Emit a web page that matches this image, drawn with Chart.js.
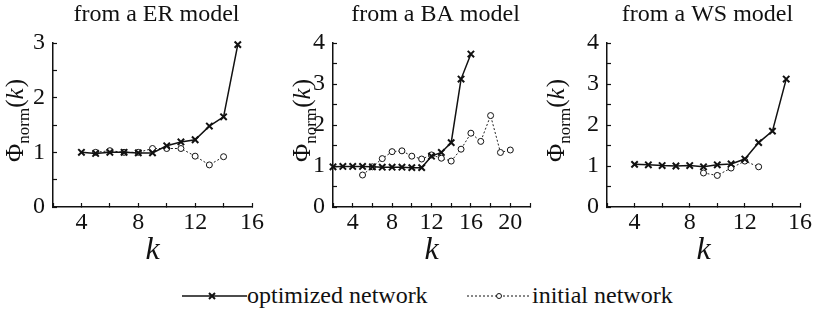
<!DOCTYPE html>
<html><head><meta charset="utf-8">
<script src="https://cdn.jsdelivr.net/npm/chart.js@4/dist/chart.umd.min.js"></script>
<style>
html,body{margin:0;padding:0;background:#fff;}
#wrap{position:relative;width:817px;height:311px;overflow:hidden;font-family:'Liberation Serif';}
.pc{position:absolute;top:0;height:270px;}
#legend{position:absolute;top:281px;left:0;width:817px;height:28px;font-size:24px;color:#111;font-family:'Liberation Serif';}
#legend span{position:absolute;top:0;white-space:nowrap;line-height:28px;}
#legend svg{position:absolute;top:0;}
</style></head>
<body><div id="wrap">
<div class="pc" style="left:0;width:272px"><canvas id="c1"></canvas></div>
<div class="pc" style="left:272px;width:272px"><canvas id="c2"></canvas></div>
<div class="pc" style="left:544px;width:273px"><canvas id="c3"></canvas></div>
<div id="legend">
<svg style="left:182px" width="65" height="28"><line x1="0" y1="15" x2="65" y2="15" stroke="#111" stroke-width="1.5"/><path d="M27 12 L33 18 M33 12 L27 18" stroke="#111" stroke-width="2"/></svg>
<span style="left:247px">optimized network</span>
<svg style="left:467px" width="64" height="28"><line x1="0" y1="15" x2="64" y2="15" stroke="#111" stroke-width="1" stroke-dasharray="2,2"/><circle cx="32" cy="15" r="2.5" fill="#fff" stroke="#111" stroke-width="1"/></svg>
<span style="left:532px">initial network</span>
</div>
</div>
<script>
// ---- data ----
const titles = ["from a ER model", "from a BA model", "from a WS model"];
const kER_opt = [4,5,6,7,8,9,10,11,12,13,14,15];
const ER_opt  = [1.00,0.98,1.00,1.00,0.99,0.99,1.12,1.19,1.23,1.48,1.65,2.97];
const kER_ini = [5,6,7,8,9,10,11,12,13,14];
const ER_ini  = [1.00,1.03,1.00,1.00,1.07,1.07,1.07,0.93,0.77,0.92];
const kBA_opt = [2,3,4,5,6,7,8,9,10,11,12,13,14,15,16];
const BA_opt  = [0.98,0.99,0.99,0.99,0.98,0.97,0.97,0.97,0.96,0.96,1.24,1.33,1.57,3.12,3.73];
const kBA_ini = [5,6,7,8,9,10,11,12,13,14,15,16,17,18,19,20];
const BA_ini  = [0.78,0.98,1.18,1.35,1.37,1.24,1.17,1.27,1.19,1.12,1.41,1.80,1.60,2.23,1.33,1.39];
const kWS_opt = [4,5,6,7,8,9,10,11,12,13,14,15];
const WS_opt  = [1.04,1.03,1.01,1.00,1.01,0.98,1.03,1.05,1.17,1.57,1.85,3.12];
const kWS_ini = [9,10,11,12,13];
const WS_ini  = [0.83,0.77,0.95,1.12,0.98];
const xMax = [16, 22, 16];
const yMax = [3, 4, 4];
const xLabelStep = 4;

const FF = "'Liberation Serif'";
const pts = (ks, vs) => ks.map((k, i) => ({x: k, y: vs[i]}));

const panelText = {
  id: 'panelText',
  afterDraw(chart, args, opts) {
    const ctx = chart.ctx, a = chart.chartArea;
    ctx.save();
    ctx.fillStyle = '#111';
    ctx.font = "24px " + FF;
    ctx.textAlign = 'center';
    ctx.textBaseline = 'middle';
    ctx.fillText(opts.title, (a.left + a.right) / 2 + opts.titleDx, 15);
    const big = "25px " + FF;
    const sub = "17px " + FF;
    const it = "italic 25px " + FF;
    const parts = [["Φ", big, 0], ["norm", sub, 6], ["(", big, 0], ["k", it, 0], [")", big, 0]];
    let w = 0;
    parts.forEach(p => { ctx.font = p[1]; p.push(ctx.measureText(p[0]).width); w += p[3]; });
    ctx.translate(opts.ylx, (a.top + a.bottom) / 2 - 4);
    ctx.rotate(-Math.PI / 2);
    ctx.textAlign = 'left';
    ctx.textBaseline = 'alphabetic';
    let x = -w / 2;
    parts.forEach(p => { ctx.font = p[1]; ctx.fillText(p[0], x, 8 + p[2]); x += p[3] + (p[0] === 'k' ? 1 : 0); });
    ctx.restore();
  }
};

function makeChart(id, idx, opt, ini, yAxisW, padRight, ylx, titleDx) {
  new Chart(document.getElementById(id), {
    type: 'line',
    data: {
      datasets: [
        {label: 'optimized network', data: opt, borderColor: '#111', borderWidth: 1.5,
         pointStyle: 'crossRot', pointRadius: 4.5, pointBorderWidth: 2, pointBorderColor: '#111',
         pointBackgroundColor: '#111', tension: 0, order: 1},
        {label: 'initial network', data: ini, borderColor: '#222', borderWidth: 1, borderDash: [2, 2],
         pointStyle: 'circle', pointRadius: 3, pointBorderWidth: 1, pointBorderColor: '#111',
         pointBackgroundColor: '#fff', tension: 0, order: 2}
      ]
    },
    options: {
      responsive: false, animation: false, clip: false,
      layout: {padding: {top: 43, right: padRight, left: 0, bottom: 0}},
      plugins: {legend: {display: false}, tooltip: {enabled: false},
        panelText: {title: titles[idx], ylx: ylx, titleDx: titleDx}},
      scales: {
        x: {type: 'linear', min: 2, max: xMax[idx],
          afterFit(s) { s.height = 63; },
          border: {color: '#111', width: 1.5},
          grid: {drawOnChartArea: false, tickLength: -4, tickColor: '#111', tickWidth: 1.2},
          ticks: {stepSize: 2, padding: 5, color: '#111', font: {family: FF, size: 24},
            maxRotation: 0, autoSkip: false,
            callback: v => (v % xLabelStep === 0 && v > 2) ? String(v) : ''},
          title: {display: true, text: 'k', color: '#111', padding: {top: 0, bottom: 0},
            font: {family: FF, size: 32, style: 'italic'}}
        },
        y: {min: 0, max: yMax[idx],
          afterFit(s) { s.width = yAxisW; },
          border: {color: '#111', width: 1.5},
          grid: {drawOnChartArea: false, tickLength: -4, tickColor: '#111', tickWidth: 1.2},
          ticks: {stepSize: 0.5, padding: 12, color: '#111', font: {family: FF, size: 24},
            autoSkip: false, callback: v => Number.isInteger(v) ? String(v) : ''}
        }
      }
    },
    plugins: [panelText]
  });
}
function setup(id, w) { const c = document.getElementById(id); c.width = w; c.height = 270; c.style.width = w + 'px'; c.style.height = '270px'; }
setup('c1', 272); setup('c2', 272); setup('c3', 273);
makeChart('c1', 0, pts(kER_opt, ER_opt), pts(kER_ini, ER_ini), 53, 20, 15, 4);
makeChart('c2', 1, pts(kBA_opt, BA_opt), pts(kBA_ini, BA_ini), 61, 14, 30, 4);
makeChart('c3', 2, pts(kWS_opt, WS_opt), pts(kWS_ini, WS_ini), 63, 12, 12, 4);
</script>
</body></html>
